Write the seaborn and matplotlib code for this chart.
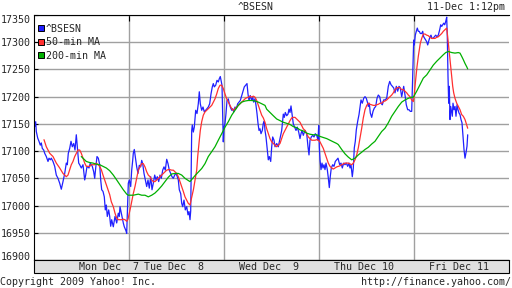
import matplotlib
matplotlib.use("Agg")
import matplotlib.pyplot as plt
import matplotlib.patches as mpatches
from matplotlib.lines import Line2D
import seaborn as sns
import pandas as pd

# ---- data (time index: 95 steps per trading session, 0 = Mon open) ----
SESSION = 95.0
bsesn_t = [1.2, 2.2, 2.8, 4.2, 5.5, 6.8, 7.8, 8.8, 10.2, 11.2, 12.8, 14.5, 15.5, 16.8, 17.8, 19.5,
           21.2, 22.8, 24.5, 26.2, 27.8, 29.5, 31.2, 32.8, 33.8, 34.8, 36.2, 37.5, 38.8, 40.2, 41.5,
           42.8, 43.8, 45.2, 46.2, 47.8, 49.5, 51.2, 52.2, 53.5, 55.5, 56.8, 58.8, 60.2, 61.2, 62.2,
           63.5, 64.8, 66.2, 67.2, 68.2, 69.5, 70.8, 71.8, 72.8, 73.8, 75.2, 76.2, 77.2, 78.2, 79.8,
           81.5, 83.2, 84.8, 85.8, 86.5, 87.5, 88.8, 89.8, 90.8, 92.2, 93.2,
           94.8, 95.8, 97.2, 98.2, 99.2, 99.8, 100.8, 101.8, 103.2, 104.5, 105.8, 107.2, 108.2, 109.2,
           110.5, 111.8, 113.2, 114.5, 115.8, 117.2, 118.5, 119.8, 121.2, 122.5, 123.8, 125.2, 126.5,
           127.8, 129.2, 130.5, 131.8, 133.2, 134.5, 135.8, 137.2, 138.5, 139.8, 141.2, 142.5, 143.8,
           144.8, 145.8, 147.2, 148.2, 149.2, 150.5, 151.8, 153.2, 154.5, 155.5, 156.5, 157.2, 158.2,
           158.8, 159.8, 160.8, 162.2, 163.5, 164.8, 165.8, 166.8, 168.2, 169.5, 170.8, 172.2, 173.5,
           174.8, 176.2, 177.5, 178.8, 179.8, 180.8, 182.2, 183.5, 184.8, 185.8, 186.8, 187.5, 188.5,
           189.8, 190.5, 191.5, 192.5, 193.5, 194.8, 195.8, 196.8, 198.2, 199.2, 200.2, 201.5, 202.8,
           204.2, 205.5, 206.8, 208.2, 209.8, 210.8, 212.2, 213.5, 214.5, 215.5, 216.8, 218.2, 219.2,
           220.2, 221.5, 222.5, 223.5, 224.5, 225.5, 226.5, 227.5, 228.8, 229.8, 230.8, 231.5, 232.5,
           233.8, 234.8, 235.8, 237.2, 238.2, 239.2, 240.5, 241.5, 243.2, 244.8, 246.5, 248.2, 249.8,
           250.8, 251.8, 253.2, 254.5, 255.5, 256.5, 257.5, 258.5, 259.8, 261.2, 262.5, 263.8, 265.2,
           266.5, 267.5, 268.5, 269.8, 271.5, 273.2, 274.5, 275.5, 276.5, 277.8, 279.2, 280.5, 281.8,
           283.2, 284.5,
           285.2, 285.8, 286.5, 287.5, 288.5, 289.5, 290.5, 291.5, 292.5, 293.8, 294.8, 295.8, 296.8,
           297.8, 299.2, 300.5, 301.8, 303.2, 304.5, 306.2, 307.5, 308.8, 310.2, 311.5, 312.8, 314.2,
           315.5, 316.5, 317.5, 318.8, 319.8, 320.8, 321.8, 322.8, 324.2, 325.5, 326.8, 327.5, 328.8,
           330.2, 331.5, 332.8, 334.2, 334.8, 335.8, 336.8, 338.2, 339.5, 340.8, 342.2, 343.5, 344.8,
           346.2, 347.5, 348.8, 350.2, 351.5, 353.2, 354.8, 356.2, 357.5, 358.8, 360.2, 361.5, 362.8,
           364.2, 365.5, 366.8, 368.2, 369.2, 370.2, 371.5, 372.8, 374.2, 375.5, 376.8, 378.2,
           380.2, 380.8, 381.8, 382.8, 383.8, 384.8, 385.8, 386.8, 388.2, 389.2, 390.2, 391.2, 392.2,
           393.2, 394.2, 395.5, 396.5, 397.5, 398.5, 399.5, 400.8, 402.2, 403.5, 404.8, 406.2, 407.2,
           408.2, 409.2, 410.2, 411.2, 412.2, 413.2, 413.8, 414.5, 415.2, 415.8, 416.5, 417.2, 418.2,
           418.8, 419.5, 420.5, 421.5, 422.5, 423.5, 424.5, 425.5, 426.5, 427.5, 428.5, 429.5, 430.5,
           431.5, 432.5, 433.5, 434.2]
bsesn_v = [17145, 17154, 17136, 17124, 17118, 17111, 17115, 17105, 17102, 17096, 17090, 17081, 17087,
           17084, 17087, 17081, 17072, 17056, 17050, 17041, 17030, 17044, 17059, 17078, 17075, 17096,
           17105, 17118, 17108, 17114, 17102, 17130, 17108, 17078, 17075, 17069, 17075, 17047, 17056,
           17072, 17069, 17078, 17072, 17062, 17050, 17069, 17090, 17087, 17075, 17047, 17029, 17026,
           17016, 16992, 17001, 16980, 16992, 16980, 16962, 16974, 16961, 16980, 16968, 16986, 16980,
           16998, 16989, 16977, 16968, 16961, 16955, 16949,
           17041, 17047, 17035, 17065, 17083, 17096, 17103, 17090, 17071, 17059, 17074, 17071, 17083,
           17077, 17059, 17047, 17035, 17047, 17032, 17053, 17029, 17041, 17056, 17047, 17053, 17044,
           17056, 17050, 17065, 17071, 17065, 17085, 17077, 17065, 17059, 17053, 17050, 17056, 17059,
           17053, 17047, 17029, 17022, 17004, 16998, 17010, 16992, 16998, 16983, 16989, 16974, 16990,
           17138, 17148, 17135, 17144, 17175, 17169, 17187, 17209, 17187, 17175, 17181, 17172, 17175,
           17178, 17181, 17187, 17205, 17218, 17224, 17218, 17221, 17230, 17227, 17233, 17237, 17230,
           17221,
           17117, 17144, 17151, 17169, 17193, 17196, 17187, 17181, 17175, 17178, 17172, 17181, 17178,
           17187, 17190, 17193, 17202, 17212, 17218, 17221, 17224, 17205, 17193, 17202, 17193, 17199,
           17190, 17196, 17184, 17169, 17151, 17138, 17141, 17132, 17138, 17151, 17155, 17138, 17126,
           17102, 17084, 17090, 17081, 17108, 17126, 17120, 17108, 17114, 17108, 17123, 17138, 17168,
           17162, 17171, 17165, 17168, 17177, 17171, 17183, 17168, 17150, 17144, 17138, 17144, 17135,
           17123, 17132, 17138, 17129, 17138, 17132, 17108, 17093, 17120, 17126, 17129, 17126, 17132,
           17129, 17120,
           17147, 17108, 17084, 17066, 17078, 17069, 17075, 17066, 17078, 17066, 17051, 17033, 17054,
           17069, 17075, 17072, 17081, 17084, 17087, 17075, 17078, 17069, 17078, 17075, 17078, 17072,
           17078, 17069, 17075, 17053, 17069, 17106, 17118, 17139, 17155, 17167, 17185, 17194, 17188,
           17197, 17200, 17197, 17188, 17182, 17188, 17170, 17162, 17173, 17179, 17182, 17197, 17203,
           17200, 17188, 17185, 17194, 17194, 17197, 17219, 17228, 17222, 17219, 17216, 17207, 17219,
           17210, 17219, 17216, 17200, 17210, 17219, 17203, 17185, 17176, 17176, 17173, 17173,
           17304, 17295, 17313, 17320, 17326, 17320, 17320, 17316, 17316, 17320, 17310, 17307, 17304,
           17301, 17295, 17304, 17310, 17313, 17307, 17307, 17310, 17313, 17310, 17313, 17323, 17332,
           17329, 17332, 17335, 17332, 17338, 17346, 17310, 17237, 17188, 17219, 17158, 17182, 17170,
           17164, 17188, 17176, 17182, 17164, 17185, 17176, 17170, 17167, 17158, 17152, 17127, 17103,
           17087, 17097, 17109, 17130]

ma50_t = [10.5, 12.8, 16.2, 19.5, 22.8, 26.2, 29.5, 32.8, 34.5, 36.2, 37.8, 39.5, 41.2, 42.8, 44.5,
          46.2, 47.8, 49.5, 51.2, 52.8, 54.5, 56.2, 57.8, 59.5, 61.2, 62.8, 64.5, 66.2, 67.8, 69.5,
          71.2, 72.8, 74.5, 76.2, 77.8, 79.8, 81.5, 83.2, 84.8, 86.5, 88.2, 89.8, 91.5, 93.2, 94.5,
          95.8, 97.2, 98.5, 99.8, 101.5, 103.2, 104.8, 106.5, 108.2, 109.8, 111.5, 113.2, 114.8,
          116.5, 118.2, 119.8, 121.5, 123.2, 124.8, 126.5, 128.2, 129.8, 131.5, 133.2, 134.8, 136.5,
          138.2, 139.8, 141.5, 143.2, 144.8, 146.5, 148.2, 149.8, 151.5, 153.2, 154.8, 156.5, 160.0,
          163.2, 164.2, 164.8, 165.8, 166.8, 168.2, 169.8, 171.5, 173.2, 174.8, 176.5, 178.2, 179.8,
          181.5, 183.2, 184.8, 186.5, 188.2, 189.8, 191.5, 193.2, 194.8, 196.5, 198.2, 199.8, 201.5,
          203.2, 204.8, 206.5, 208.2, 209.8, 211.5, 213.2, 214.8, 216.5, 218.2, 219.8, 221.5, 223.2,
          224.8, 226.5, 228.2, 229.8, 231.5, 233.2, 234.8, 236.5, 238.2, 239.8, 241.5, 243.2, 244.8,
          246.5, 248.2, 249.8, 251.5, 253.2, 254.8, 256.5, 258.2, 259.8, 261.5, 263.2, 264.8, 266.5,
          268.2, 269.8, 271.5, 273.2, 274.8, 276.5, 278.2, 279.8, 281.5, 283.2, 284.8, 286.5, 288.2,
          289.8, 291.5, 293.2, 294.8, 296.5, 298.2, 299.8, 301.5, 303.2, 304.8, 306.5, 308.2, 311.5,
          314.8, 318.2, 319.8, 321.5, 323.2, 324.8, 326.5, 328.2, 329.8, 331.5, 333.2, 334.8, 336.5,
          338.2, 339.8, 341.5, 343.2, 344.8, 346.5, 348.2, 349.8, 351.5, 353.2, 354.8, 356.5, 358.2,
          359.8, 361.5, 363.2, 364.8, 366.5, 368.2, 369.8, 371.5, 373.2, 374.8, 376.5, 378.2, 379.8,
          380.8, 381.5, 382.5, 383.5, 384.8, 385.8, 386.8, 388.2, 389.8, 391.5, 393.2, 394.8, 396.5,
          398.2, 399.8, 401.5, 403.2, 404.8, 406.5, 408.2, 409.8, 411.5, 413.2, 414.2, 415.2, 416.2,
          417.2, 418.2, 419.2, 420.2, 421.5, 423.2, 424.8, 426.5, 428.2, 429.8, 431.5, 433.2, 434.2]
ma50_v = [17121, 17108, 17096, 17090, 17078, 17069, 17059, 17053, 17056, 17066, 17075, 17081, 17090,
          17096, 17102, 17102, 17096, 17087, 17078, 17072, 17072, 17072, 17075, 17075, 17075, 17078,
          17075, 17072, 17066, 17056, 17047, 17038, 17029, 17020, 17007, 16998, 16986, 16977, 16974,
          16974, 16974, 16975, 16974, 16971, 16975, 16986, 16998, 17010, 17022, 17035, 17050, 17065,
          17071, 17077, 17077, 17071, 17062, 17056, 17053, 17047, 17044, 17044, 17047, 17050, 17053,
          17056, 17059, 17062, 17065, 17066, 17066, 17065, 17065, 17062, 17059, 17053, 17044, 17035,
          17026, 17016, 17010, 17004, 17001, 17030, 17065, 17090, 17102, 17120, 17138, 17154, 17166,
          17172, 17175, 17178, 17181, 17184, 17190, 17196, 17205, 17215, 17221, 17221, 17215, 17205,
          17196, 17190, 17184, 17178, 17175, 17178, 17181, 17184, 17187, 17190, 17193, 17196, 17198,
          17199, 17201, 17199, 17201, 17199, 17193, 17184, 17175, 17166, 17161, 17153, 17141, 17132,
          17123, 17117, 17114, 17111, 17108, 17111, 17114, 17123, 17132, 17138, 17144, 17150, 17156,
          17161, 17162, 17162, 17159, 17156, 17153, 17147, 17141, 17138, 17132, 17126, 17123, 17120,
          17120, 17120, 17121, 17120, 17117, 17111, 17105, 17096, 17087, 17078, 17072, 17069, 17067,
          17069, 17071, 17072, 17073, 17075, 17078, 17078, 17075, 17078, 17084, 17093, 17106, 17124,
          17142, 17161, 17176, 17184, 17188, 17186, 17185, 17184, 17184, 17185, 17186, 17188, 17188,
          17191, 17192, 17194, 17197, 17200, 17203, 17207, 17213, 17216, 17217, 17216, 17213, 17213,
          17210, 17207, 17203, 17200, 17194, 17191, 17203, 17219, 17237, 17255, 17274, 17286, 17298,
          17307, 17315, 17315, 17313, 17312, 17309, 17307, 17307, 17307, 17309, 17310, 17313, 17316,
          17320, 17323, 17326, 17310, 17292, 17274, 17255, 17237, 17219, 17207, 17197, 17188, 17182,
          17176, 17167, 17164, 17158, 17148, 17142]

ma200_t = [47.8, 49.5, 52.8, 56.2, 59.5, 62.8, 66.2, 69.5, 72.8, 76.2, 79.8, 83.2, 86.5, 89.8, 93.2,
           94.8, 99.8, 104.8, 108.2, 111.5, 114.8, 118.2, 121.5, 124.8, 128.2, 131.5, 134.8, 138.2,
           141.5, 144.8, 148.2, 151.5, 154.8, 156.5, 161.5, 168.2, 171.5, 174.8, 178.2, 181.5, 184.8,
           188.2, 191.5, 194.8, 198.2, 201.5, 204.8, 208.2, 211.5, 214.8, 218.2, 221.5, 224.8, 228.2,
           231.5, 233.2, 236.5, 239.8, 243.2, 246.5, 249.8, 253.2, 256.5, 259.8, 263.2, 266.5, 269.8,
           273.2, 276.5, 279.8, 283.2, 286.5, 289.8, 293.2, 296.5, 299.8, 303.2, 304.8, 308.2, 311.5,
           314.8, 318.2, 321.5, 324.8, 328.2, 331.5, 334.8, 338.2, 341.5, 344.8, 348.2, 351.5, 354.8,
           358.2, 361.5, 364.8, 368.2, 371.5, 374.8, 378.2, 379.8, 383.2, 386.5, 389.8, 393.2, 396.5,
           399.8, 403.2, 406.5, 409.8, 412.2, 414.8, 418.2, 421.5, 424.8, 426.5, 428.2, 429.8, 431.5,
           433.2, 434.2]
ma200_v = [17090, 17087, 17081, 17079, 17078, 17076, 17075, 17072, 17069, 17064, 17056, 17047, 17038,
           17029, 17021, 17019, 17019, 17021, 17019, 17019, 17016, 17019, 17023, 17029, 17036, 17044,
           17052, 17058, 17059, 17059, 17056, 17050, 17046, 17044, 17055, 17068, 17077, 17090, 17099,
           17108, 17120, 17132, 17144, 17154, 17166, 17175, 17184, 17190, 17192, 17193, 17193, 17192,
           17190, 17187, 17184, 17177, 17171, 17165, 17159, 17156, 17153, 17151, 17149, 17145, 17143,
           17139, 17137, 17133, 17131, 17130, 17130, 17127, 17125, 17123, 17120, 17117, 17114, 17112,
           17103, 17095, 17089, 17084, 17087, 17093, 17098, 17103, 17107, 17113, 17118, 17127, 17136,
           17142, 17152, 17164, 17173, 17182, 17190, 17194, 17197, 17199, 17199, 17210, 17222, 17234,
           17240, 17249, 17258, 17265, 17271, 17277, 17281, 17283, 17281, 17280, 17281, 17280, 17274,
           17268, 17261, 17255, 17251]

day_labels = ["Mon Dec  7", "Tue Dec  8", "Wed Dec  9", "Thu Dec 10", "Fri Dec 11"]
day_label_pos = [0.795, 1.479, 2.479, 3.479, 4.479]
y_ticks = [16900, 16950, 17000, 17050, 17100, 17150, 17200, 17250, 17300, 17350]
series_names = ["^BSESN", "50-min MA", "200-min MA"]
series_colors = ["#2020ff", "#ff3030", "#00b000"]

# ---- build frames ----
frames = []
for name, t, v in [(series_names[0], bsesn_t, bsesn_v),
                   (series_names[1], ma50_t, ma50_v),
                   (series_names[2], ma200_t, ma200_v)]:
    frames.append(pd.DataFrame({"day": [x / SESSION for x in t], "value": v, "series": name}))
df = pd.concat(frames, ignore_index=True)

sns.set_style("white")
plt.rcParams["font.family"] = ["DejaVu Sans Mono"]
FS = 7.2

W, H = 512, 288
fig = plt.figure(figsize=(W / 100, H / 100), dpi=100)
L, R, T, B = 33.5, 508.5, 15, 260
ax = fig.add_axes([L / W, 1 - B / H, (R - L) / W, (B - T) / H])

for name, col in zip(series_names, series_colors):
    sub = df[df["series"] == name]
    sns.lineplot(data=sub, x="day", y="value", ax=ax, color=col, lw=0.9,
                 estimator=None, sort=False, legend=False)

ax.set_xlim(0, 5)
ax.set_ylim(16900, 17350)
ax.set_xlabel("")
ax.set_ylabel("")

# grid / ticks
ax.set_yticks(y_ticks)
ax.set_xticks([1, 2, 3, 4])
ax.set_xticklabels([])
ax.grid(True, color="#a0a0a0", lw=1.0)
ax.set_axisbelow(True)
ax.tick_params(axis="y", direction="in", length=3, width=0.8, color="black",
               labelsize=FS, pad=2, left=True, right=False)
ax.tick_params(axis="x", direction="in", length=4, width=0.8, color="black",
               top=True, bottom=False, labelbottom=False)
for s in ax.spines.values():
    s.set_color("black")
    s.set_linewidth(0.8)
ax.spines["right"].set_visible(False)

labels = ax.get_yticklabels()
labels[0].set_va("baseline")
labels[-1].set_va("top")

# date band below plot
band_h = 13.3 / (B - T)
ax.add_patch(mpatches.Rectangle((0, -band_h), 1, band_h, transform=ax.transAxes,
                                clip_on=False, fc="#e0e0e0", ec="black", lw=0.8, zorder=3))
for lab, xpos in zip(day_labels, day_label_pos):
    ax.text(xpos, -band_h / 2, lab, transform=ax.get_xaxis_transform(),
            ha="center", va="center", fontsize=FS, zorder=4)

# legend
handles = [Line2D([], [], marker="s", ls="none", markersize=4.6, markerfacecolor=c,
                  markeredgecolor="black", markeredgewidth=0.7) for c in series_colors]
ax.legend(handles, series_names, loc="upper left", bbox_to_anchor=(0, 1 - 5.5 / (B - T)),
          borderaxespad=0, borderpad=0.3, handlelength=0.8, handletextpad=0.15,
          labelspacing=0.36, frameon=False, fontsize=FS)

# header / footer
fig.text(0.5, 1 - 7 / H, "^BSESN", ha="center", va="center", fontsize=FS)
fig.text(505 / W, 1 - 7 / H, "11-Dec 1:12pm", ha="right", va="center", fontsize=FS)
fig.text(0.0, 1 - 282 / H, "Copyright 2009 Yahoo! Inc.", ha="left", va="center", fontsize=FS)
fig.text(511 / W, 1 - 282 / H, "http://finance.yahoo.com/", ha="right", va="center", fontsize=FS)

fig.savefig("out.png", dpi=100)
